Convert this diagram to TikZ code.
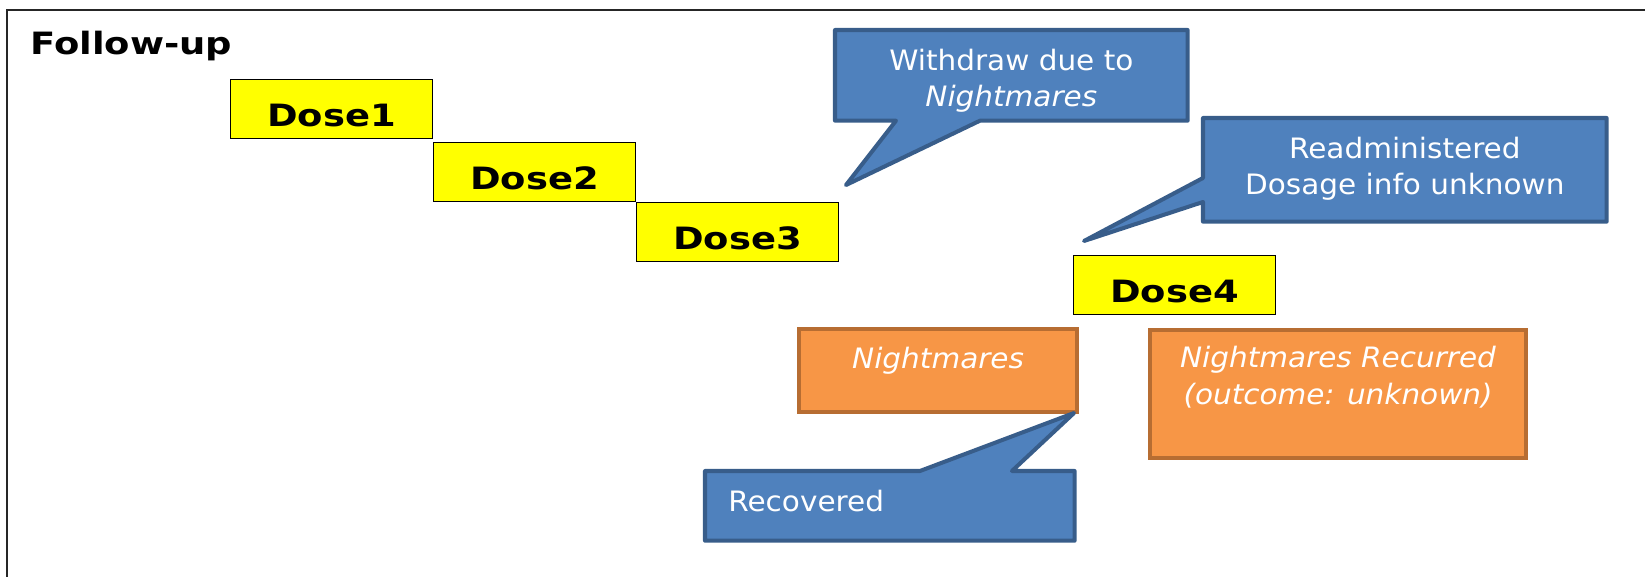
\documentclass[tikz,border=0pt]{standalone}
\usepackage{fontspec}
\setmainfont{DejaVu Sans}[FakeStretch=1.05]
\newfontfamily\widebold{DejaVu Sans}[FakeStretch=1.2]
\usetikzlibrary{positioning,calc}

\definecolor{doseyellow}{RGB}{255,255,0}
\definecolor{noteblue}{RGB}{79,129,189}
\definecolor{noteedge}{RGB}{56,93,138}
\definecolor{aeorange}{RGB}{247,150,70}
\definecolor{aeedge}{RGB}{183,109,50}

\tikzset{
  dose/.style={draw=black, line width=0.6pt, fill=doseyellow, minimum width=4.04cm,
    inner sep=0pt, text height=0.94cm, text depth=0.24cm,
    font=\widebold\bfseries\fontsize{17.5}{20}\selectfont},
  note/.style={fill=noteblue, draw=noteedge, line width=2.3pt, line join=round},
  aebox/.style={fill=aeorange, draw=aeedge, line width=2.4pt, inner sep=0pt, anchor=north west},
  area/.style={inner sep=0pt, anchor=north west},
  boxtext/.style={text=white, align=center, inner sep=0pt, anchor=base,
    font=\fontsize{16}{20.6}\selectfont},
}

\begin{document}
\begin{tikzpicture}[x=0.02cm, y=-0.02cm]
        \useasboundingbox (0,0) rectangle (1645,577);

        % Marc del panell
        \coordinate (framebl) at (7,577);
        \coordinate (frametl) at (7,10);
        \coordinate (frametr) at (1645,10);
        \draw[line width=1.3pt, black!85] (framebl) -- (frametl) -- (frametr);

        \node[anchor=base west, inner sep=0pt, font=\widebold\bfseries\fontsize{17.5}{20}\selectfont] (title) at (30,55) {Follow-up};

        % Dosis en escala
        \node[dose, anchor=north west] (dose1) at (230,79) {Dose1};
        \node[dose, below right=0.05cm and 0cm of dose1] (dose2) {Dose2};
        \node[dose, below right=0cm and 0cm of dose2] (dose3) {Dose3};
        \node[dose, anchor=north west] (dose4) at (1073,255) {Dose4};

        % Bafarada de retirada
        \node[area, minimum width=7.04cm, minimum height=1.8cm] (wdbox) at (835,30) {};
        \coordinate (wdtip) at (846,185);
        \draw[note] (wdbox.north west) -- (wdbox.north east) -- (wdbox.south east)
          -- ([xshift=2.9cm]wdbox.south west) -- (wdtip) -- ([xshift=1.22cm]wdbox.south west)
          -- (wdbox.south west) -- cycle;
        \node[boxtext] (wdtext) at ($(wdbox.north)+(0,77)$) {Withdraw due to\\\textit{Nightmares}};

        % Bafarada de readministracio
        \node[area, minimum width=8.06cm, minimum height=2.06cm] (rdbox) at (1203,118) {};
        \coordinate (rdtip) at (1084,241);
        \draw[note] (rdbox.north west) -- (rdbox.north east) -- (rdbox.south east) -- (rdbox.south west)
          -- ([yshift=-1.68cm]rdbox.north west) -- (rdtip) -- ([yshift=-1.2cm]rdbox.north west) -- cycle;
        \node[boxtext] (rdtext) at ($(rdbox.north)+(0,77)$) {Readministered\\Dosage info unknown};

        % Esdeveniments adversos
        \node[aebox, minimum width=5.56cm, minimum height=1.66cm] (nmbox) at (797,327) {};
        \node[boxtext] (nmtext) at ($(nmbox.north)+(0,41)$) {\textit{Nightmares}};
        \node[aebox, minimum width=7.52cm, minimum height=2.56cm] (recbox) at (1148,328) {};
        \node[boxtext] (rectext) at ($(recbox.north)+(0,76)$) {\textit{Nightmares Recurred}\\\textit{(outcome: unknown)}};

        % Bafarada de recuperacio
        \node[area, minimum width=7.38cm, minimum height=1.38cm] (rcvbox) at (705,471) {};
        \coordinate (rcvtip) at (1074,413);
        \draw[note] (rcvbox.south west) -- (rcvbox.north west) -- ([xshift=4.3cm]rcvbox.north west)
          -- (rcvtip) -- ([xshift=6.14cm]rcvbox.north west) -- (rcvbox.north east) -- (rcvbox.south east) -- cycle;
        \node[boxtext, anchor=base west] (rcvtext) at ($(rcvbox.north west)+(23,40)$) {Recovered};

    \end{tikzpicture}
\end{document}
